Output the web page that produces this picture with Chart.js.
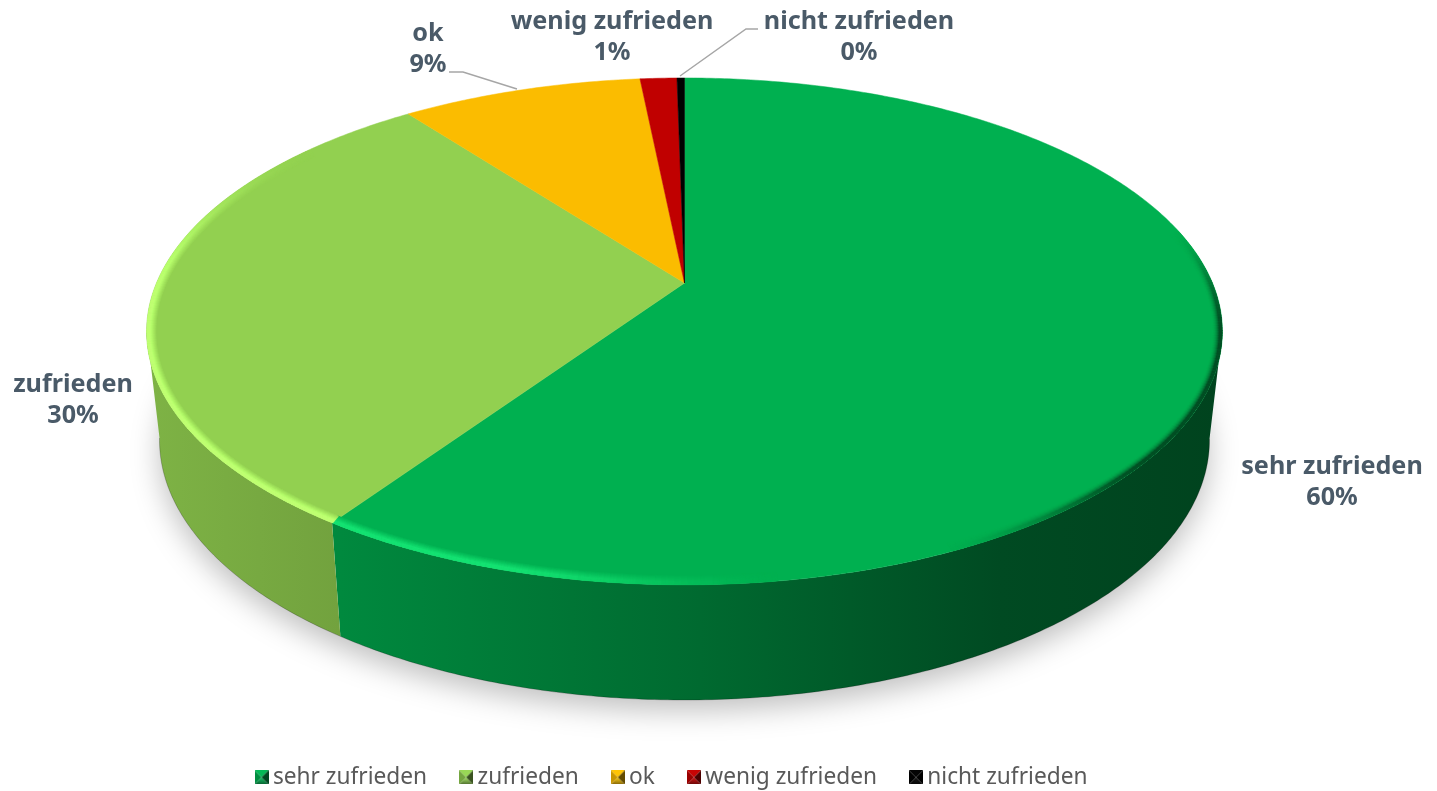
<!DOCTYPE html>
<html><head><meta charset="utf-8">
<style>html,body{margin:0;padding:0;background:#fff;overflow:hidden}canvas{display:block}</style>
<script src="https://cdn.jsdelivr.net/npm/chart.js@4/dist/chart.umd.js"></script>
</head><body><canvas id="c" width="1437" height="791"></canvas>
<script>
const categories = ['sehr zufrieden','zufrieden','ok','wenig zufrieden','nicht zufrieden'];
const shares = [59.5,30.2,8.7,1.33,0.27];
const sliceColors = ['#00B050','#92D050','#FBBC00','#C00000','#000000'];

const FONT = '"Noto Sans"';
const CX=684.5, AY=283, K=0.191, A=528, B=244.2;
const TOP={cy:331.5,a:538,b:253.5}, BOT={cy:440,a:525,b:260};
const labelPos=[[1332,467],[73,385],[428,34],[612,22],[859,22]];
const leaders=[null,null,[[449,72],[463,72],[517,89]],null,[[680,76],[746,29],[758,29]]];
const wallStops=[[146,.86],[340,.78],[700,.60],[1000,.42],[1222,.38]];

function rgb(h){return [1,3,5].map(i=>parseInt(h.substr(i,2),16));}
function mix(c,d,t){return c.map((v,i)=>v+(d[i]-v)*t);}
function css(c){return `rgb(${c.map(v=>Math.max(0,Math.min(255,Math.round(v)))).join(',')})`;}
function proj(a){const u=Math.cos(a),v=-Math.sin(a),w=1+K*v;return [CX+A*u/w,AY-B*v/w];}
function phiOf(p){return Math.atan2((p[1]-TOP.cy)/TOP.b,(p[0]-CX)/TOP.a);}
function ell(E,phi,d){return [CX+(E.a-d)*Math.cos(phi),E.cy+(E.b-d)*Math.sin(phi)];}
function angles(s,e){const n=Math.max(2,Math.ceil((e-s)/0.01));const r=[];for(let i=0;i<=n;i++)r.push(s+(e-s)*i/n);return r;}
function sstep(a,b,x){const t=Math.max(0,Math.min(1,(x-a)/(b-a)));return t*t*(3-2*t);}

function drawShadow(ctx){
  ctx.save();
  ctx.shadowColor='rgba(0,0,0,.26)';ctx.shadowBlur=30;ctx.shadowOffsetY=13;ctx.shadowOffsetX=0;
  ctx.fillStyle='#fff';
  ctx.beginPath();ctx.ellipse(CX,BOT.cy,BOT.a-1,BOT.b-3,0,0,Math.PI*2);ctx.fill();
  ctx.restore();
}
function drawWall(ctx,el,col){
  const base=rgb(col);
  const pts=[];
  angles(el.startAngle,el.endAngle).forEach(a=>{const p=proj(a),f=phiOf(p);
    if(Math.sin(f)>-0.01)pts.push([p,ell(BOT,f,0)]);});
  if(pts.length<2)return;
  const g=ctx.createLinearGradient(146,0,1222,0);
  wallStops.forEach(s=>g.addColorStop((s[0]-146)/1076,css(base.map(v=>v*s[1]))));
  ctx.beginPath();
  pts.forEach((q,i)=>i?ctx.lineTo(q[0][0],q[0][1]):ctx.moveTo(q[0][0],q[0][1]));
  pts.slice().reverse().forEach(q=>ctx.lineTo(q[1][0],q[1][1]));
  ctx.closePath();ctx.fillStyle=g;ctx.fill();
  ctx.strokeStyle='rgba(0,0,0,.22)';ctx.lineWidth=1;
  ctx.beginPath();pts.forEach((q,i)=>i?ctx.lineTo(q[1][0],q[1][1]):ctx.moveTo(q[1][0],q[1][1]));ctx.stroke();
}
function drawTop(ctx,el,col){
  ctx.beginPath();ctx.moveTo(CX,AY);
  angles(el.startAngle,el.endAngle).forEach(a=>{const p=proj(a);ctx.lineTo(p[0],p[1]);});
  ctx.closePath();ctx.fillStyle=col;ctx.fill();
  ctx.strokeStyle=col;ctx.lineWidth=.5;ctx.stroke();
}
function drawBevel(ctx,el,col){
  const base=rgb(col);
  const light=base.map(v=>v*1.17+20),dark=base.map(v=>v*.45);
  const as=angles(el.startAngle,el.endAngle);
  const deg=Math.PI/180;
  ctx.save();
  ctx.beginPath();ctx.ellipse(CX,TOP.cy,TOP.a,TOP.b,0,0,Math.PI*2);ctx.clip();
  ctx.lineCap='butt';ctx.lineWidth=1.5;
  for(let d=9;d>=0;d-=1){
    const fade=d<3?1:Math.max(0,1-(d-3)/7);
    for(let i=0;i<as.length-1;i++){
      let f0=phiOf(proj(as[i])),f1=phiOf(proj(as[i+1]));
      let f=f0/deg; if(f<-90)f+=360;
      const li=sstep(78,112,f)*(1-sstep(185,228,f));
      const dr=sstep(-25,0,f)*(1-sstep(30,62,f));
      if(li<.01&&dr<.01)continue;
      let c=mix(base,light,li*fade);
      c=mix(c,dark,dr*fade*fade);
      const p0=ell(TOP,f0-.002,d),p1=ell(TOP,f1+.002,d);
      ctx.strokeStyle=css(c);
      ctx.beginPath();ctx.moveTo(p0[0],p0[1]);ctx.lineTo(p1[0],p1[1]);ctx.stroke();
    }
  }
  ctx.restore();
}
function marker(col){
  const c=document.createElement('canvas');c.width=14;c.height=14;
  const x=c.getContext('2d'),b=rgb(col);
  const tri=(p,g)=>{x.beginPath();x.moveTo(p[0],p[1]);x.lineTo(p[2],p[3]);x.lineTo(7,7);x.closePath();x.fillStyle=g;x.fill();};
  tri([0,0,14,0],css(b.map(v=>v*1.02+4)));
  let g=x.createLinearGradient(0,14,0,7);g.addColorStop(0,css(b.map(v=>v*.5+8)));g.addColorStop(1,css(b.map(v=>v*1+22)));
  tri([0,14,14,14],g);
  tri([0,0,0,14],css(b.map(v=>v*.8)));
  tri([14,0,14,14],css(b.map(v=>v*.4)));
  return c;
}
const pie3d={
  id:'pie3d',
  afterLayout(chart){
    const l=chart.legend;
    const dy=727-l.top, dx=-44;
    l.top+=dy;l.bottom+=dy;l.left+=dx;l.right+=dx;
  },
  beforeDatasetDraw(chart,args){
    const ctx=chart.ctx,els=chart.getDatasetMeta(args.index).data;
    const cols=chart.data.datasets[args.index].backgroundColor;
    drawShadow(ctx);
    els.forEach((e,i)=>drawWall(ctx,e,cols[i]));
    els.forEach((e,i)=>drawTop(ctx,e,cols[i]));
    els.forEach((e,i)=>drawBevel(ctx,e,cols[i]));
    return false;
  },
  afterDatasetsDraw(chart){
    const ctx=chart.ctx,vals=chart.data.datasets[0].data,total=vals.reduce((a,b)=>a+b,0);
    ctx.save();
    ctx.strokeStyle='#a6a6a6';ctx.lineWidth=1.5;
    leaders.forEach(l=>{if(!l)return;ctx.beginPath();l.forEach((p,i)=>i?ctx.lineTo(p[0],p[1]):ctx.moveTo(p[0],p[1]));ctx.stroke();});
    ctx.fillStyle='#4a5a68';ctx.font=`bold 25.2px ${FONT}`;ctx.textAlign='center';ctx.textBaseline='middle';
    chart.data.labels.forEach((t,i)=>{
      const [x,y]=labelPos[i];
      ctx.fillText(t,x,y);
      ctx.fillText(Math.round(vals[i]/total*100)+'%',x,y+30.5);
    });
    ctx.restore();
  }
};
new Chart(document.getElementById('c'),{
  type:'pie',
  data:{labels:categories,datasets:[{data:shares,backgroundColor:sliceColors,borderWidth:0}]},
  options:{
    responsive:false,animation:false,
    plugins:{
      tooltip:{enabled:false},
      legend:{display:true,position:'bottom',
        labels:{
          usePointStyle:true,boxWidth:0.01,padding:39,color:'#595959',font:{family:FONT,size:22.7},
          generateLabels(chart){
            return Chart.overrides.pie.plugins.legend.labels.generateLabels(chart).map((it,i)=>({...it,pointStyle:marker(sliceColors[i]),lineWidth:0}));
          }
        }}
    }
  },
  plugins:[pie3d]
});
</script></body></html>
